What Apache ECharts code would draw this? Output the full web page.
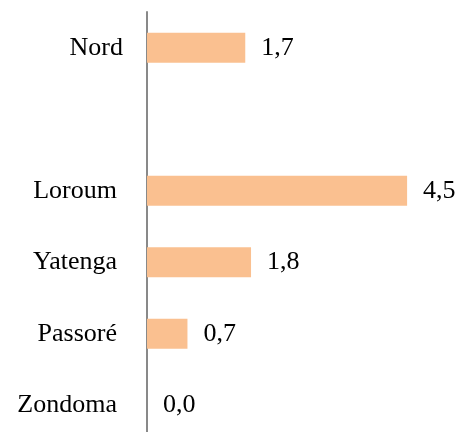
<!DOCTYPE html>
<html>
<head>
<meta charset="utf-8">
<script src="https://cdn.jsdelivr.net/npm/echarts@6/dist/echarts.min.js"></script>
<style>
  html, body { margin: 0; padding: 0; background: #fff; overflow: hidden; }
  #chart { width: 459px; height: 445px; }
</style>
</head>
<body>
<div id="chart"></div>
<script>
// données
var categories = ['Nord', '', 'Loroum', 'Yatenga', 'Passoré', 'Zondoma'];
var values = [1.7, null, 4.5, 1.8, 0.7, 0.0];

var chart = echarts.init(document.getElementById('chart'));

var option = {
  animation: false,
  textStyle: { fontFamily: 'Liberation Serif' },
  grid: {
    left: 147,
    top: 12,
    width: 289,
    height: 429
  },
  xAxis: {
    type: 'value',
    min: 0,
    max: 5,
    show: false
  },
  yAxis: {
    type: 'category',
    inverse: true,
    data: categories,
    axisLine: { show: true, lineStyle: { color: '#898989', width: 2 } },
    axisTick: { show: false },
    axisLabel: {
      margin: 24,
      fontSize: 26,
      color: '#000',
      fontFamily: 'Liberation Serif',
      formatter: function (v) {
        return v === 'Nord' ? '{a|' + v + '}' : '{b|' + v + '}';
      },
      rich: {
        a: { fontSize: 26, fontFamily: 'Liberation Serif', color: '#000' },
        b: { fontSize: 26, fontFamily: 'Liberation Serif', color: '#000', padding: [0, 6, 0, 0] }
      }
    }
  },
  series: [{
    type: 'bar',
    data: values,
    barWidth: 30,
    itemStyle: { color: '#FAC090' },
    label: {
      show: true,
      position: 'right',
      distance: 16,
      fontSize: 26,
      color: '#000',
      fontFamily: 'Liberation Serif',
      formatter: function (p) {
        return p.value == null ? '' : p.value.toFixed(1).replace('.', ',');
      }
    }
  }]
};

chart.setOption(option);
</script>
</body>
</html>
